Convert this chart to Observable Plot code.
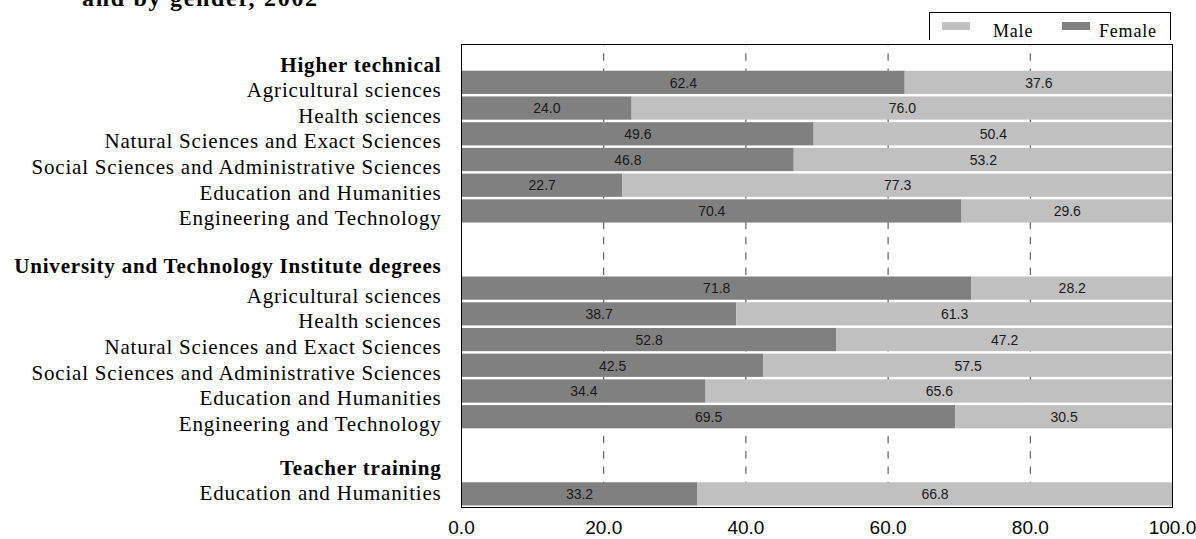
<!DOCTYPE html>
<html><head><meta charset="utf-8">
<script src="https://cdn.jsdelivr.net/npm/d3@7"></script>
<script src="https://cdn.jsdelivr.net/npm/@observablehq/plot@0.6"></script>
<style>
body{margin:0;background:#fff;}
#wrap{position:relative;width:1196px;height:539px;overflow:hidden;}
#chart{position:absolute;left:0;top:0;}
#title{position:absolute;left:82px;top:-14px;font:bold 24px "Liberation Serif","Times New Roman",serif;letter-spacing:1.7px;line-height:24px;white-space:nowrap;color:#000;}
#legend{position:absolute;left:929px;top:12px;width:240px;height:27px;border:1px solid #000;border-bottom:none;font:18px "Liberation Serif","Times New Roman",serif;color:#000;}
#legend .sw{position:absolute;top:9px;width:28px;height:8px;}
#legend .lt{position:absolute;top:9px;line-height:18px;white-space:nowrap;letter-spacing:0.8px;}
</style>
</head><body>
<div id="wrap">
  <div id="chart"></div>
  <div id="title">and by gender, 2002</div>
  <div id="legend">
    <div class="sw" style="left:12px;background:#c0c0c0"></div>
    <div class="lt" style="left:63px">Male</div>
    <div class="sw" style="left:132px;background:#808080"></div>
    <div class="lt" style="left:169px">Female</div>
  </div>
</div>
<script>
const groups = ["Higher technical", "University and Technology Institute degrees", "Teacher training"];
const fieldsHT = ["Agricultural sciences", "Health sciences", "Natural Sciences and Exact Sciences", "Social Sciences and Administrative Sciences", "Education and Humanities", "Engineering and Technology"];
const femaleHT = [62.4, 24.0, 49.6, 46.8, 22.7, 70.4];
const maleHT   = [37.6, 76.0, 50.4, 53.2, 77.3, 29.6];
const fieldsUT = ["Agricultural sciences", "Health sciences", "Natural Sciences and Exact Sciences", "Social Sciences and Administrative Sciences", "Education and Humanities", "Engineering and Technology"];
const femaleUT = [71.8, 38.7, 52.8, 42.5, 34.4, 69.5];
const maleUT   = [28.2, 61.3, 47.2, 57.5, 65.6, 30.5];
const fieldsTT = ["Education and Humanities"];
const femaleTT = [33.2];
const maleTT   = [66.8];
const xTicks = [0, 20, 40, 60, 80, 100];
const gridTicks = [20, 40, 60, 80];

const groupData = [
  {fields: fieldsHT, female: femaleHT, male: maleHT},
  {fields: fieldsUT, female: femaleUT, male: maleUT},
  {fields: fieldsTT, female: femaleTT, male: maleTT}
];
const rows = [];
groups.forEach((g, gi) => {
  rows.push({key: `g${gi}`, label: g, kind: "header", gi});
  groupData[gi].fields.forEach((f, j) => {
    rows.push({key: `g${gi}-${j}`, label: f, kind: "item", gi, female: groupData[gi].female[j], male: groupData[gi].male[j]});
  });
  if (gi < groups.length - 1) rows.push({key: `b${gi}`, label: "", kind: "blank", gi});
});
const items = rows.filter(r => r.kind === "item");

const serif = '"Liberation Serif","Times New Roman",serif';
const sans = '"Liberation Sans",Arial,sans-serif';

// vertical nudges of the row labels, per group (header, items)
const labelShift = [[8, 7], [3, 7], [-1, -1]];
const labelMarks = [];
groups.forEach((g, gi) => {
  labelMarks.push(Plot.text(rows.filter(r => r.gi === gi && r.kind === "header"), {y: "key", frameAnchor: "left", text: "label", textAnchor: "end", dx: -20, dy: labelShift[gi][0], fontSize: 21, fontWeight: "bold", fontFamily: serif, fill: "#000"}));
  labelMarks.push(Plot.text(rows.filter(r => r.gi === gi && r.kind === "item"), {y: "key", frameAnchor: "left", text: "label", textAnchor: "end", dx: -20, dy: labelShift[gi][1], fontSize: 21, fontFamily: serif, fill: "#000"}));
});

const chart = Plot.plot({
  width: 1196, height: 539,
  marginLeft: 461, marginRight: 24, marginTop: 44, marginBottom: 32,
  x: {domain: [0, 100]},
  y: {domain: rows.map(r => r.key), padding: 0, round: false, axis: null},
  style: {fontFamily: sans, background: "transparent", color: "#000"},
  marks: [
    Plot.ruleX(gridTicks, {stroke: "#444", strokeWidth: 1, strokeDasharray: "7.5,7.8", strokeDashoffset: 6}),
    Plot.barX(items, {y: "key", x1: 0, x2: "female", fill: "#808080", insetTop: 1, insetBottom: 1.5}),
    Plot.barX(items, {y: "key", x1: "female", x2: 100, fill: "#c0c0c0", insetTop: 1, insetBottom: 1.5}),
    Plot.text(items, {y: "key", x: d => d.female / 2, text: d => d.female.toFixed(1), fontSize: 14, fill: "#1a1a1a", fontFamily: sans}),
    Plot.text(items, {y: "key", x: d => d.female + d.male / 2, text: d => d.male.toFixed(1), fontSize: 14, fill: "#1a1a1a", fontFamily: sans}),
    Plot.frame({stroke: "#000", strokeWidth: 1}),
    Plot.axisX({ticks: xTicks, tickFormat: d => d.toFixed(1), tickSize: 0, tickPadding: 13, fontSize: 19, fill: "#000", label: null, fontFamily: sans}),
    ...labelMarks
  ]
});
const labelSet = new Set(rows.map(r => r.label).filter(l => l));
chart.querySelectorAll("text").forEach(t => {
  if (labelSet.has(t.textContent)) t.style.letterSpacing = "0.8px";
});
document.getElementById("chart").appendChild(chart);
</script>
</body></html>
